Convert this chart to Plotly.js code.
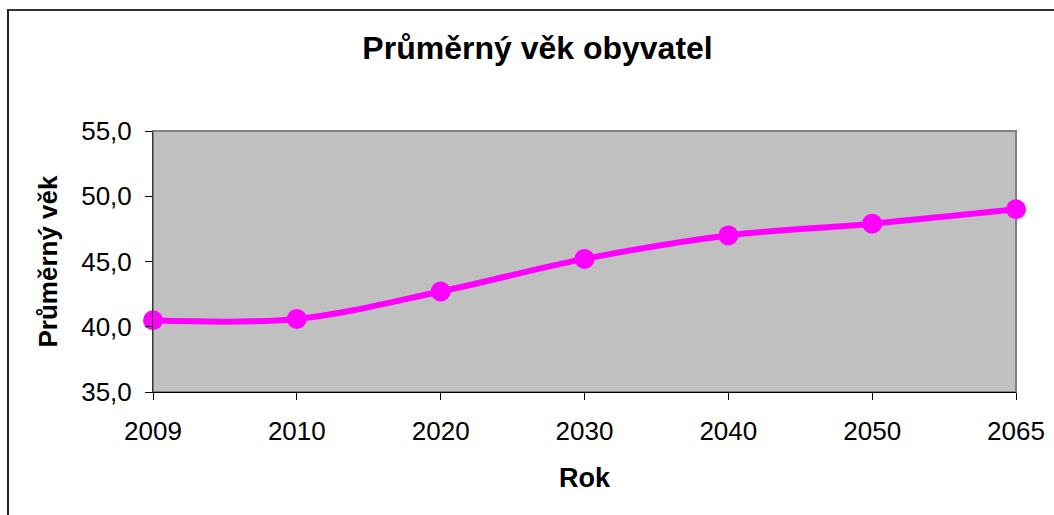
<!DOCTYPE html>
<html>
<head>
<meta charset="utf-8">
<script src="https://cdn.plot.ly/plotly-3.0.1.min.js"></script>
<style>
  html, body { margin: 0; padding: 0; background: #fff; }
  #wrap { position: relative; width: 1054px; height: 515px; overflow: hidden; }
  #frame { position: absolute; left: 7px; top: 9px; width: 1100px; height: 600px;
           border-left: 2px solid #222; border-top: 2px solid #333; pointer-events: none; }
  #chart { position: absolute; left: 0; top: 0; width: 1054px; height: 515px; }
</style>
</head>
<body>
<div id="wrap">
  <div id="chart"></div>
  <div id="frame"></div>
</div>
<script>
const years = ['2009', '2010', '2020', '2030', '2040', '2050', '2065'];
const avgAge = [40.5, 40.6, 42.7, 45.2, 47.0, 47.9, 49.0];
const yTicks = [35, 40, 45, 50, 55];

const FONT = 'Liberation Sans, Arial, sans-serif';

const trace = {
  x: years,
  y: avgAge,
  type: 'scatter',
  mode: 'lines+markers',
  line: { color: '#FF00FF', width: 6, shape: 'spline', smoothing: 1 },
  marker: { color: '#FF00FF', size: 20 },
  cliponaxis: false,
  hoverinfo: 'x+y'
};

const layout = {
  width: 1054,
  height: 515,
  margin: { l: 153, r: 38, t: 131, b: 123 },
  paper_bgcolor: 'rgba(0,0,0,0)',
  plot_bgcolor: '#C0C0C0',
  separators: ', ',
  showlegend: false,
  font: { family: FONT, color: '#000' },
  title: {
    text: '<b>Průměrný věk obyvatel</b>',
    font: { family: FONT, size: 32, color: '#000' },
    xref: 'container', x: 0.51, xanchor: 'center',
    yref: 'container', y: 0.907, yanchor: 'middle'
  },
  xaxis: {
    type: 'category',
    range: [0, years.length - 1],
    showgrid: false,
    zeroline: false,
    showline: true, linecolor: '#000', linewidth: 1,
    ticks: 'outside', ticklen: 7, tickcolor: '#000', tickwidth: 1,
    tickfont: { family: FONT, size: 26, color: '#000' },
    ticklabelstandoff: 9,
    title: { text: '<b>Rok</b>', font: { family: FONT, size: 27, color: '#000' }, standoff: 22 },
    automargin: false
  },
  yaxis: {
    range: [35, 55],
    tickvals: yTicks,
    tickformat: '.1f',
    showgrid: false,
    zeroline: false,
    showline: true, linecolor: '#333', linewidth: 1,
    ticks: 'outside', ticklen: 7, tickcolor: '#000', tickwidth: 1,
    tickfont: { family: FONT, size: 26, color: '#000' },
    ticklabelstandoff: 8,
    title: { text: '<b>Průměrný věk</b>', font: { family: FONT, size: 26, color: '#000' }, standoff: 16 },
    automargin: false
  },
  shapes: [{
    type: 'rect', xref: 'paper', yref: 'paper', x0: 0, x1: 1, y0: 0, y1: 1,
    line: { color: '#808080', width: 2 }, layer: 'below'
  }]
};

Plotly.newPlot('chart', [trace], layout, { displayModeBar: false, staticPlot: true });
</script>
</body>
</html>
